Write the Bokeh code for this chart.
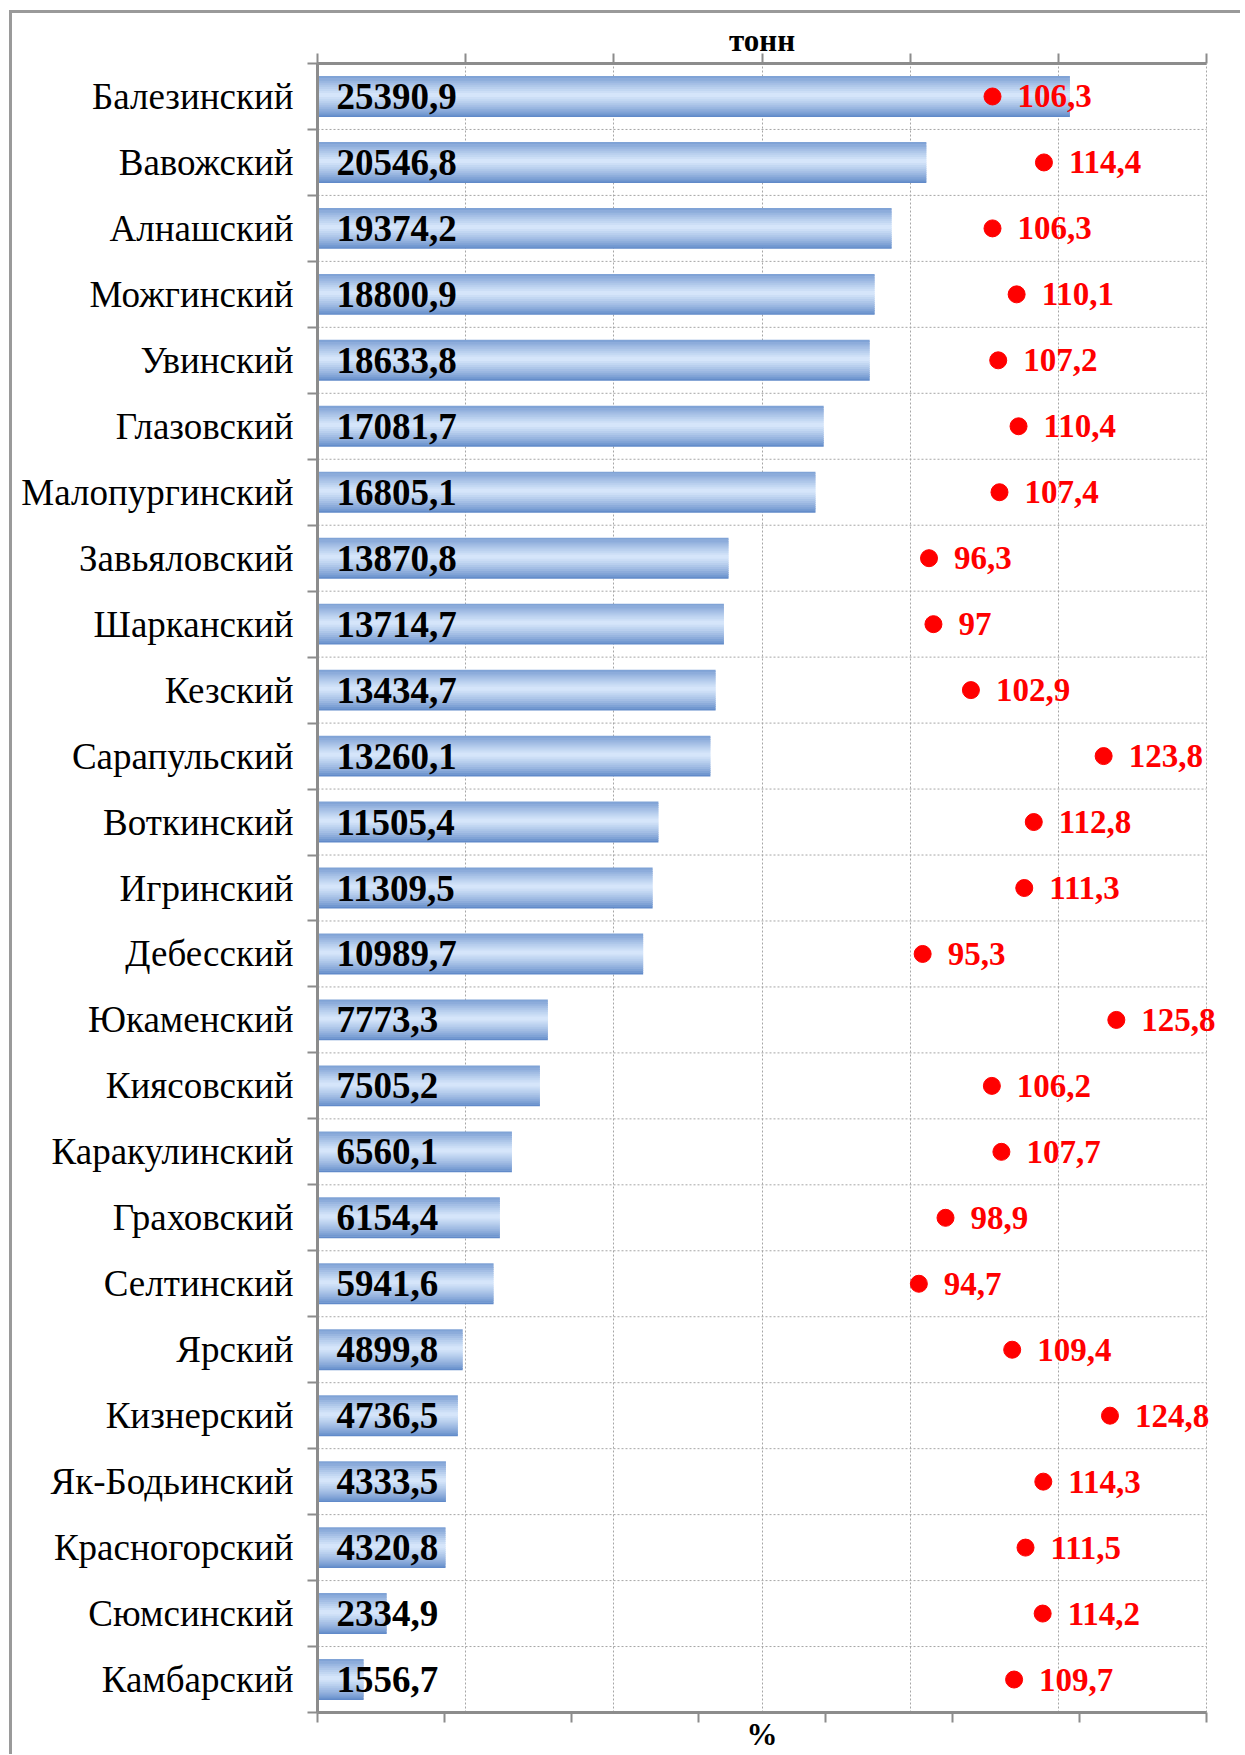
from bokeh.plotting import figure
from bokeh.models import Range1d, LinearAxis, FixedTicker, LabelSet, ColumnDataSource, InlineStyleSheet
from bokeh.core.properties import value
from bokeh.embed import file_html
from bokeh.resources import INLINE

districts = ["Балезинский", "Вавожский", "Алнашский", "Можгинский", "Увинский",
             "Глазовский", "Малопургинский", "Завьяловский", "Шарканский", "Кезский",
             "Сарапульский", "Воткинский", "Игринский", "Дебесский", "Юкаменский",
             "Киясовский", "Каракулинский", "Граховский", "Селтинский", "Ярский",
             "Кизнерский", "Як-Бодьинский", "Красногорский", "Сюмсинский", "Камбарский"]
tonnes = [25390.9, 20546.8, 19374.2, 18800.9, 18633.8, 17081.7, 16805.1, 13870.8,
          13714.7, 13434.7, 13260.1, 11505.4, 11309.5, 10989.7, 7773.3, 7505.2,
          6560.1, 6154.4, 5941.6, 4899.8, 4736.5, 4333.5, 4320.8, 2334.9, 1556.7]
percent = [106.3, 114.4, 106.3, 110.1, 107.2, 110.4, 107.4, 96.3, 97.0, 102.9,
           123.8, 112.8, 111.3, 95.3, 125.8, 106.2, 107.7, 98.9, 94.7, 109.4,
           124.8, 114.3, 111.5, 114.2, 109.7]
tonnes_ticks = [0, 5000, 10000, 15000, 20000, 25000, 30000]
percent_ticks = [0, 20, 40, 60, 80, 100, 120, 140]
top_label = "тонн"
bottom_label = "%"


def fmt(v):
    s = f"{v:.1f}"
    if s.endswith(".0"):
        s = s[:-2]
    return s.replace(".", ",")


n = len(districts)
ypos = [n - i for i in range(n)]
boundaries = [k + 0.5 for k in range(n + 1)]

src = ColumnDataSource(dict(
    name=districts, t=tonnes, pct=percent, y=ypos,
    tl=[fmt(v) for v in tonnes], pl=[fmt(v) for v in percent],
    zero=[0] * n,
))

SERIF = "Liberation Serif"
GRAY = "#8c8c8c"

# page geometry (pixels)
W, H = 1240, 1754
FRAME_L, AXIS_R, FRAME_T, FRAME_B = 317, 1206, 63, 1713
ext = (W - FRAME_L) / (AXIS_R - FRAME_L)   # frame extends right of the last tick

p = figure(width=W, height=H,
           x_range=Range1d(tonnes_ticks[0], tonnes_ticks[-1] * ext),
           y_range=Range1d(0.5, n + 0.5),
           x_axis_location="above",
           output_backend="svg", toolbar_location=None,
           min_border_left=FRAME_L, min_border_right=0,
           min_border_top=FRAME_T, min_border_bottom=H - FRAME_B)
p.outline_line_color = None
p.background_fill_color = "white"
p.border_fill_color = "white"

p.extra_x_ranges = {"pct": Range1d(percent_ticks[0], percent_ticks[-1] * ext)}


def style_x_axis(ax, ticks, label, standoff):
    # the visible ticks are drawn as minor ticks; a single invisible major tick
    # at the middle of the scale carries the axis title
    mid_val = (ticks[0] + ticks[-1]) / 2
    ax.ticker = FixedTicker(ticks=[mid_val], minor_ticks=ticks)
    ax.major_label_overrides = {mid_val: label}
    ax.bounds = (ticks[0], ticks[-1])
    ax.axis_line_color = GRAY
    ax.axis_line_width = 3
    ax.major_tick_line_color = None
    ax.major_tick_out = 0
    ax.major_tick_in = 0
    ax.minor_tick_line_color = GRAY
    ax.minor_tick_line_width = 2
    ax.minor_tick_out = 10
    ax.minor_tick_in = 0
    ax.major_label_text_font = SERIF
    ax.major_label_text_font_style = "bold"
    ax.major_label_text_font_size = "31px"
    ax.major_label_text_color = "black"
    ax.major_label_standoff = standoff


style_x_axis(p.xaxis[0], tonnes_ticks, top_label, -4)

bot = LinearAxis(x_range_name="pct")
style_x_axis(bot, percent_ticks, bottom_label, -6)
p.add_layout(bot, "below")

# left axis with district names
left = p.yaxis[0]
left.ticker = FixedTicker(ticks=ypos, minor_ticks=boundaries)
left.major_label_overrides = {y: nm for y, nm in zip(ypos, districts)}
left.major_tick_line_color = None
left.major_tick_out = 0
left.major_tick_in = 0
left.minor_tick_line_color = GRAY
left.minor_tick_line_width = 2
left.minor_tick_out = 10
left.minor_tick_in = 0
left.axis_line_color = GRAY
left.axis_line_width = 3
left.major_label_text_font = SERIF
left.major_label_text_font_size = "37px"
left.major_label_text_color = "black"
left.major_label_standoff = 14

# grids
p.xgrid.ticker = FixedTicker(ticks=tonnes_ticks)
p.xgrid.grid_line_color = "#a6a6a6"
p.xgrid.grid_line_dash = "2 2"
p.ygrid.grid_line_color = None
p.segment(x0=[tonnes_ticks[0]] * len(boundaries), x1=[tonnes_ticks[-1]] * len(boundaries),
          y0=boundaries, y1=boundaries, line_color="#a6a6a6", line_dash="2 2", line_width=1)

# gradient bars
bar_h = 0.62
N = 20
edge = (84, 128, 195)
mid = (218, 233, 252)
for k in range(N):
    t = (k + 0.5) / N
    w = max(0.0, 1 - abs(t - 0.55) / 0.55) ** 0.75
    c = tuple(int(round(e + (m - e) * w)) for e, m in zip(edge, mid))
    col = "#%02x%02x%02x" % c
    off = -bar_h / 2 + (k + 0.5) * bar_h / N
    hh = bar_h / N * (1.6 if 0 < k < N - 1 else 1.0)
    p.hbar(y=[y + off for y in ypos], right=tonnes, left=0, height=hh,
           fill_color=col, line_color=None)

# black value labels
p.text(x="zero", y="y", text="tl", source=src, x_offset=19,
       text_font=value(SERIF), text_font_style="bold", text_font_size="37px",
       text_color="black", text_baseline="middle", text_align="left")

# red percent dots and labels
p.scatter(x="pct", y="y", source=src, x_range_name="pct", marker="circle",
          size=17, fill_color="#ff0000", line_color="#ff0000")
p.add_layout(LabelSet(x="pct", y="y", text="pl", source=src, x_range_name="pct",
                      x_offset=25, text_font=value(SERIF), text_font_style="bold",
                      text_font_size="33px", text_color="#ff0000",
                      text_baseline="middle", text_align="left"))

# outer chart frame (decorative border of the original chart box)
p.stylesheets = [InlineStyleSheet(css=""":host::after {
  content: ""; position: absolute; left: 9px; top: 10px; right: 0; bottom: 0;
  border-left: 3px solid #9a9a9a; border-top: 3px solid #9a9a9a;
  pointer-events: none; }""")]

open("out.html", "w").write(file_html(p, INLINE))
